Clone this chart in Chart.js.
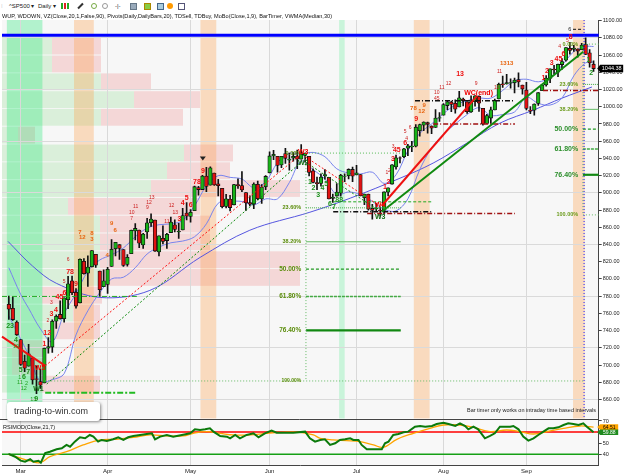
<!DOCTYPE html>
<html><head><meta charset="utf-8">
<script src="https://cdn.jsdelivr.net/npm/chart.js@4.4.1/dist/chart.umd.min.js"></script>
<style>
html,body{margin:0;padding:0;background:#fff}
body{width:625px;height:476px;position:relative;overflow:hidden;font-family:"Liberation Sans",Arial,sans-serif;color:#111}
canvas{position:absolute;left:0}
#main{top:0}
#rsi{top:419px}
.tb{position:absolute;top:2px;height:8px;font-size:6px;line-height:8px;white-space:nowrap;color:#222}
.ic{position:absolute;top:3px;width:6px;height:6px}
#ind{position:absolute;left:2px;top:13px;font-size:5.6px;line-height:7px;white-space:nowrap;z-index:3}
#wm{position:absolute;left:7px;top:402px;width:93px;height:19px;background:#fff;border-radius:3px;box-shadow:1px 1px 3px rgba(0,0,0,.45);font-size:9px;line-height:19px;color:#333;padding-left:7px;box-sizing:border-box;z-index:4}
#bt{position:absolute;right:29px;top:407px;font-size:5.5px;line-height:7px;color:#222;z-index:3;white-space:nowrap}
#rt{position:absolute;left:3px;top:424px;font-size:5.5px;line-height:7px;color:#111;z-index:3;white-space:nowrap}
</style></head>
<body>
<div class="tb" style="left:1px;color:#aaa">⁞</div>
<div class="tb" style="left:9px">^SP500 ▾</div>
<div class="tb" style="left:38px">Daily ▾</div>
<div class="ic" style="left:61px;width:2px;background:#2a2"></div>
<div class="ic" style="left:64px;width:2px;background:#d22"></div>
<div class="ic" style="left:67px;width:2px;background:#2a2"></div>
<div class="ic" style="left:77px;width:7px;height:2px;top:5px;background:#333;transform:rotate(-45deg)"></div>
<div class="ic" style="left:91px;border-radius:50%;border:1px solid #7a4;width:4px;height:4px"></div>
<div class="ic" style="left:102px;border-radius:50%;border:1px solid #999;width:4px;height:4px"></div>
<div class="tb" style="left:115px;color:#333">-|-</div>
<div class="ic" style="left:130px;background:#9ab;border:1px solid #678;width:5px;height:5px"></div>
<div class="ic" style="left:144px;background:#8c4;border:1px solid #a80;width:5px;height:5px"></div>
<div class="ic" style="left:157px;background:#acd;border:1px solid #468;width:5px;height:5px"></div>
<div class="ic" style="left:167px;background:#f90;border-radius:50%"></div>
<div class="ic" style="left:178px;background:#fff;border:1px solid #557;width:5px;height:5px"></div>
<div id="ind">WUP, WDOWN, VZ(Close,20,1,False,90), Pivots(Daily,DailyBars,20), TDSell, TDBuy, MoBo(Close,1,9), BarTimer, VWMA(Median,30)</div>
<canvas id="main" width="625" height="419"></canvas>
<canvas id="rsi" width="625" height="57"></canvas>
<div id="wm">trading-to-win.com</div>
<div id="bt">Bar timer only works on intraday time based intervals</div>
<div id="rt">RSIMOD(Close,21,7)</div>
<script>
// ================= DATA =================
const opens=[770.6,765.8,749.9,729.6,704.4,698.6,708.3,684.0,680.8,679.3,
719.6,720.9,751.0,758.8,753.9,776.0,797.9,784.6,772.3,820.6,
806.8,814.1,828.7,809.1,790.9,793.6,814.5,835.1,839.8,834.1,
816.8,829.3,855.7,856.9,839.4,854.5,865.2,868.3,831.3,847.3,
844.6,853.9,862.8,854.5,856.9,876.6,872.7,879.2,906.1,903.8,
919.6,909.0,923.0,910.5,905.4,884.2,892.8,886.1,909.7,908.6,
900.4,888.7,887.0,910.0,893.0,907.0,923.3,942.9,942.5,932.5,
945.7,938.1,940.4,942.7,939.0,943.4,942.5,925.6,911.9,910.9,
920.0,918.1,893.5,896.3,899.5,918.8,919.9,927.2,920.8,921.2,
894.3,898.6,881.9,881.3,880.0,879.6,900.8,910.2,930.2,940.6,
942.1,952.0,953.4,954.1,972.2,978.6,981.5,977.7,976.0,986.8,
990.2,1001.4,1005.4,1004.1,999.8,1008.9,1005.8,994.0,1005.9,1012.2,
998.2,980.6,986.9,996.4,1009.1,1026.6,1026.6,1027.4,1027.8,1031.6,
1025.2,1019.5,996.1,996.1,1003.8,1018.7,1025.4,1033.0,1043.9,1040.2,
1049.0,1054.0,1067.9,1066.6,1067.1,1066.4,1072.7,1062.6,1049.5];
const highs=[780.1,779.4,751.3,729.6,711.7,724.1,708.3,699.1,695.3,719.6,
731.9,752.6,758.3,774.5,778.1,803.0,803.2,788.9,823.4,823.7,
826.8,833.0,828.7,809.1,810.5,813.6,845.6,842.5,839.8,834.1,
828.4,856.9,864.3,856.9,852.9,870.4,875.6,868.3,850.1,861.8,
852.9,871.8,868.8,864.5,882.1,888.7,880.5,907.9,907.7,920.3,
929.6,930.2,923.0,915.6,905.4,898.4,897.0,910.0,916.4,924.6,
900.4,896.7,911.8,913.8,909.5,920.0,947.8,949.4,942.5,942.5,
951.7,946.3,946.9,949.8,956.2,946.3,942.5,928.0,918.4,922.0,
927.1,918.1,898.7,910.9,921.4,922.0,928.0,930.0,931.9,921.2,
898.7,898.6,886.8,887.9,883.6,901.1,905.8,933.0,944.0,941.9,
951.6,956.5,959.8,979.4,979.8,982.5,982.2,977.8,996.7,993.2,
1003.6,1007.1,1006.6,1008.0,1018.0,1010.1,1005.8,1012.8,1013.1,1012.6,
998.2,991.2,999.6,1008.9,1027.6,1035.8,1037.8,1032.5,1033.3,1039.5,
1025.2,1028.5,1000.3,1003.4,1016.5,1026.1,1036.3,1044.1,1048.2,1049.7,
1056.0,1068.8,1074.8,1071.5,1067.3,1073.8,1080.2,1066.3,1053.5];
const lows=[752.9,751.8,734.5,699.7,692.3,698.6,677.9,666.8,672.9,679.3,
713.9,714.8,742.5,753.4,749.9,765.6,781.8,766.2,772.3,805.5,
791.4,814.1,813.4,779.8,790.9,783.3,814.5,826.7,822.8,814.5,
814.8,829.3,845.4,836.3,835.6,847.0,860.9,832.0,826.8,840.6,
835.6,853.9,854.7,847.1,856.9,868.5,866.1,879.2,897.3,903.8,
901.4,909.0,908.7,896.5,882.5,882.5,878.9,886.1,905.2,901.4,
879.6,884.8,881.5,891.9,887.6,903.6,923.3,938.5,923.9,929.3,
934.1,926.4,936.7,928.0,939.0,935.7,919.7,911.6,903.8,907.9,
915.8,893.0,888.9,896.3,896.3,913.0,916.2,912.9,920.8,896.4,
886.4,879.9,869.3,878.5,872.8,875.3,896.5,910.2,927.4,934.9,
941.0,943.2,947.8,953.3,966.0,972.3,969.4,968.7,976.0,982.9,
990.2,996.7,994.3,992.5,999.8,1001.0,992.4,993.4,1000.8,994.6,
978.5,980.6,980.6,996.4,1009.1,1022.5,1026.2,1021.6,1016.2,1023.1,
1014.6,996.3,992.0,990.3,1001.7,1018.7,1024.0,1028.0,1038.4,1035.0,
1043.4,1052.9,1061.0,1064.3,1057.5,1066.4,1060.4,1045.9,1041.2];
const closes=[764.9,752.8,735.1,700.8,696.3,712.9,682.6,683.4,676.5,719.6,
721.4,750.7,756.6,753.9,778.1,794.4,784.0,768.5,822.9,806.1,
813.9,832.9,815.9,787.5,797.9,811.1,834.4,842.5,835.5,815.6,
825.2,856.6,858.7,841.5,852.1,865.3,869.6,832.4,850.1,843.6,
851.9,866.2,857.5,855.2,873.6,872.8,877.5,907.2,903.8,919.5,
907.4,929.2,909.2,908.4,883.9,893.1,882.9,909.7,908.1,903.5,
888.3,887.0,910.3,893.1,906.8,919.1,942.9,944.7,931.8,942.5,
940.1,939.1,942.4,939.2,944.9,946.2,923.7,912.0,910.7,918.4,
921.2,893.0,895.1,900.9,920.3,918.9,927.2,919.3,923.3,896.4,
898.7,881.0,879.6,882.7,879.1,901.1,905.8,932.7,940.7,940.4,
951.1,954.6,954.1,976.3,979.3,982.2,979.6,975.2,986.8,987.5,
1002.6,1005.7,1002.7,997.1,1010.5,1007.1,994.4,1005.8,1012.7,1004.1,
979.7,989.7,996.5,1007.4,1026.1,1025.6,1028.0,1028.1,1031.0,1028.9,
1020.6,998.0,994.8,1003.2,1016.4,1025.4,1033.4,1044.1,1042.7,1049.3,
1052.6,1068.8,1065.5,1068.3,1064.7,1071.7,1060.9,1050.8,1044.4];
const monthIdx=[3,25,46,66,88,110,131];
const monthLbl=['Mar','Apr','May','Jun','Jul','Aug','Sep'];
const lastPrice=1044.38;

// MoBo bands
const mbIdx=[0,3,5,8,11,14,17,20,23,26,29,32,35,38,41,44,47,50,53,56,59,62,65,68,71,74,77,80,83,86,89,92,95,98,101,104,107,110,113,116,119,122,125,128,131,134,137,140,143,146,148];
const mbUp=[813,782,766,742,727,760,783,809,822,828,836,849,859,863,864,868,885,908,920,918,916,906,913,935,946,945,947,942,928,923,922,924,911,921,949,969,980,992,1002,1007,1010,1010,1019,1030,1032,1029,1034,1048,1064,1070,1070];
const mbLo=[757,730,712,681,683,690,735,763,784,800,802,813,829,837,842,844,849,864,888,890,890,886,893,893,912,937,927,916,898,901,898,890,881,879,893,927,952,968,980,991,999,990,991,994,1011,1004,1002,1010,1036,1051,1052];
// VWMA(Median,30)
const vwIdx=[-0.2,6,12,23.1,35.7,48.4,61.0,76.2,86.4,99.0,107.4,116,124.3,132.7,140,147.6];
const vwVal=[843.6,815,795,778.5,786.7,825,856.6,877.5,893.8,917,934.6,958,981,996,1010,1023];

// Volume zones (20 price buckets, up / down volume)
const vzTop=[1080.2,1059.5,1038.8,1018.1,997.5,976.8,956.1,935.5,914.8,894.1,873.5,852.8,832.1,811.5,790.8,770.1,749.5,728.8,708.1,687.5];
const vzStep=20.67;
const vzUp=[50,50,99,132,99,16,182,165,149,66,98,98,98,98,40,71,48,10,10,38];
const vzDn=[49,49,50,66,82,17,49,63,149,132,110,110,200,200,60,27,50,33,33,60];

// time zones (bar index ranges)
const tzFrom=[-0.5,16.5,48.5,83.6,102.5,142.8];
const tzTo=[8.5,21.5,52.5,85.0,106.5,145.8];
const tzKind=['mint','orange','orange','mint2','orange','orange'];

// pivots / horizontal lines
const pivotHigh=1083;
const hlPrice=[1007,980,1019,889.6,878,876,779.7,667.9,1090];
const hlFrom=[102.8,107.4,135.2,82.1,82.1,90.7,-1.73,9.2,142.8];
const hlTo=[128.1,128.1,149.3,107.4,107.4,128.1,32.4,32.4,145.4];
const hlKind=['blackDD','redDD','redDD','greenDash','blackDD','redDD','greenDD','greenDDthick','blackDash'];

// wave trend lines [barIndex, price]
const tlFrom=[[-1.73,733],[9.2,699],[9.6,678],[75,942],[75,936],[94.4,885],[94.4,878]];
const tlTo=[[9.15,699.4],[74.5,947],[74.1,936],[93.5,886],[93.5,880],[118.4,1012],[145.4,1064]];
const tlKind=['redSolid','redDash','greenTrend','redDash','greenTrend','redSolid','greenSolid'];

// Fibonacci retracements
const fibLbl=['0.00%','23.60%','38.20%','50.00%','61.80%','76.40%','100.00%'];
const fib1Lvl=[946.2,882.6,843.2,811.4,779.5,740.2,681.5];
const fib1Span=[75.2,99.2];
const fib1FullSpan=[9.2,145.9];
const fib1LblIdx=74.0;
const fib2Lvl=[1072.8,1026,997,974,951,921,874.4];
const fib2Span=[145.3,149.3];
const fib2LblIdx=144.1;
const barTimerIdx=145.6;

// TD / wave labels [barIndex, price, text]
const redBig=[[9.0,724,'1'],[9.7,737,'12'],[10.8,759,'3'],[11.9,764.4,'4'],[12.8,779,'45'],[14.1,783.7,'6'],[15.5,808,'78'],[17.0,794.6,'9'],[43.2,869.4,'3'],[44.0,887.7,'4'],[45.0,893.5,'5'],[46.0,885.7,'6'],[47.6,912.8,'78'],[49.1,925.2,'9'],[95.2,907,'1'],[96.1,912.8,'2'],[97.2,938.8,'3'],[98.2,949.7,'45'],[100.3,957.4,'6'],[103.1,985.3,'9'],[114.2,1037.7,'13'],[135.3,1033,'1'],[136.2,1041.9,'2'],[137.4,1050.5,'3'],[139.1,1055.1,'45'],[140.4,1061.3,'6'],[142.2,1081.4,'8']];
const redSmall=[[9.9,752,'2'],[10.8,772,'3'],[14.0,797,'5'],[15.0,822.6,'6'],[31.1,870,'7'],[31.1,876.7,'10'],[32.1,883.7,'11'],[35.1,883,'9'],[35.5,888.8,'12'],[36.2,894.7,'13'],[40.0,866.3,'11'],[41.2,885.7,'12'],[42.1,876.7,'13'],[95.7,923,'1'],[96.3,925.6,'2'],[97.3,953.5,'3'],[100.7,963.3,'4'],[100.3,971,'5'],[101.6,976,'6'],[108.3,1016.7,'10'],[108.3,1009.8,'45'],[109.6,1022.6,'11'],[111.3,1027.2,'12'],[118.3,1027.2,'9'],[124.2,1040.7,'11'],[123.5,1022.6,'10'],[139.4,1069.8,'4'],[141.4,1076.4,'5']];
const orangeLbl=[[18.0,854,'7'],[18.6,848,'12'],[21.0,852.8,'8'],[21.0,846,'3'],[24.9,827.6,'4'],[26.0,865,'9'],[26.9,856.6,'6'],[102.4,998.1,'78'],[104.5,994.2,'12'],[105.1,1001.2,'9'],[126.0,1050.5,'1313']];
const greenBig=[[0.3,745,'23'],[1.8,728.7,'4'],[3.0,693.8,'5'],[4.9,691.9,'7'],[3.8,686,'6'],[6.9,661,'9'],[76.2,912.8,'1'],[77.1,905,'2'],[78.3,897.3,'3'],[79.4,905.5,'4'],[80.3,910,'5'],[81.3,886.9,'6'],[82.3,883.4,'7'],[83.6,891.6,'88'],[146.7,1054.3,'1'],[147.4,1039.5,'2']];
const greenSmall=[[1.8,721.7,'10'],[2.8,686,'1'],[2.8,680.2,'11'],[4.5,678.4,'2'],[3.8,672.6,'12'],[6.2,659.8,'13']];
const blackSmall=[[142.0,1090,'6']];
const waveRed=[[7.9,697,'W5'],[74.5,947.7,'W3'],[94.0,885.7,'W4'],[118.9,1015.6,'WC(end)']];
const waveGreen=[[7.5,672.6,'W1'],[74.5,934.2,'W2'],[94.0,871.4,'W3']];
const topMarks=[[49.1,940]];

// RSIMOD
const rsiIdx=[-0.1,1.6,3.0,4.1,5.4,6.2,7.5,8.1,9.2,10.4,12.1,13.4,14.6,15.5,16.7,18.0,19.3,20.5,21.4,22.6,23.5,24.8,26.4,27.7,29.0,30.2,31.5,33.2,34.9,36.2,37.0,38.3,40.0,41.6,43.8,45.9,47.1,48.4,49.7,50.9,51.8,53.5,55.2,56.0,57.3,58.5,60.2,61.9,63.2,64.8,66.5,67.8,69.5,72.0,75.0,76.2,77.5,78.8,80.0,81.3,82.6,83.8,85.1,86.4,87.2,88.5,89.3,90.6,91.9,93.1,94.4,95.2,96.1,97.3,98.6,99.9,101.1,102.8,104.1,105.4,107.1,108.3,110.0,111.3,113.0,114.2,115.5,116.3,117.6,118.8,120.5,121.8,123.0,124.3,125.6,126.9,127.7,129.0,130.2,131.5,132.8,134.0,135.3,136.6,137.8,139.1,140.4,141.6,142.9,144.2,145.4,146.3,148];
const rsiVal=[40.3,37.8,34.3,33.3,35.5,33.3,34.2,32.4,41.0,42.3,44.5,45.4,48.4,46.8,51.4,55.3,54.4,57.4,55.9,51.4,52.9,52.0,53.5,55.3,52.9,55.3,56.5,57.4,58.3,58.9,53.5,55.9,57.4,55.9,57.4,58.9,62.5,61.9,62.5,63.4,60.4,56.5,55.9,54.4,57.4,54.4,57.4,58.9,55.3,58.9,61.3,59.5,59.5,59.5,60.4,54.4,51.4,52.9,53.5,48.4,49.9,52.9,53.5,54.4,52.9,52.9,48.4,44.5,44.5,44.5,44.5,49.9,51.4,57.4,58.3,59.8,60.4,64.9,65.5,64.9,65.5,67.3,68.5,67.3,65.5,67.9,65.5,62.5,64.9,62.5,54.4,56.5,58.9,64.9,64.9,64.9,65.5,62.5,55.9,52.3,54.4,57.4,60.4,63.4,63.4,64.3,66.4,67.9,67.3,66.4,67.9,64.9,59.88];
const sigIdx=[-0.1,2.8,5.4,7.9,10.4,14.6,18.8,23.1,27.3,31.5,35.7,40.0,44.2,46.7,50.1,53.5,56.8,61.1,65.3,69.5,73.7,77.1,78.8,82.1,85.5,88.9,92.3,94.8,98.2,102.4,106.6,110.0,114.2,117.6,121.8,126.0,129.4,132.8,136.2,140.4,144.6,148];
const sigVal=[40,36.7,34,32.4,37.8,42.3,48.4,52.9,53.5,55.3,57.4,56.5,56.5,58.9,60.4,58.9,57.4,57.4,58.9,59.8,59.8,57.4,54.4,52.9,52.3,51.4,48.4,46.3,53.5,58.9,63.4,66.4,66.4,64.3,60.4,61.9,60.4,58.3,60.4,63.4,65.5,64.51];
const rsiLevels=[60,40];
const rsiTicks=[40,50,60,70];
const rsiLast=59.88, sigLast=64.51;

// ================= STYLE =================
const FONT='"Liberation Sans", Arial, sans-serif';
const xMin=-1.73, xMax=149.3;
const TZC={mint:'rgba(40,235,120,0.33)',mint2:'rgba(40,235,120,0.22)',orange:'rgba(255,160,70,0.32)'};
const LS={
 blackDD:{c:'#111',w:1.5,d:[5,2,1,2]},
 blackDash:{c:'#111',w:1,d:[3,2]},
 redDD:{c:'#a01010',w:1.5,d:[5,2,1,2]},
 greenDash:{c:'#22aa22',w:1,d:[3,2]},
 greenDD:{c:'#22aa22',w:1,d:[5,2,1,2]},
 greenDDthick:{c:'#22bb22',w:2,d:[6,2,2,2]},
 redSolid:{c:'#ee1111',w:2,d:[]},
 redDash:{c:'#ff1010',w:1,d:[2,2]},
 greenTrend:{c:'#0a8a0a',w:1,d:[2,2]},
 greenSolid:{c:'#108a10',w:2,d:[]}
};
const fibStyle=[{c:'#55bb55',w:1,d:[1,2]},{c:'#44aa44',w:1,d:[1,1]},{c:'#66bb66',w:1,d:[]},{c:'#229922',w:1.2,d:[3,2]},{c:'#44aa44',w:1.5,d:[3,1]},{c:'#118811',w:2.2,d:[]},{c:'#66bb66',w:1,d:[1,2]}];
const fib1Font=[5.5,5.5,5.5,6.5,6.5,6.5,5];
const fib2Font=[5.5,5.5,5.5,7,7,7,5.5];

function px(c,v){return c.scales.x.getPixelForValue(v);}
function py(c,v){return c.scales.y.getPixelForValue(v);}
function ln(ctx,x1,y1,x2,y2,s){ctx.beginPath();ctx.strokeStyle=s.c;ctx.lineWidth=s.w;ctx.setLineDash(s.d||[]);ctx.moveTo(x1,y1);ctx.lineTo(x2,y2);ctx.stroke();ctx.setLineDash([]);}
function tx(ctx,s,x,y,font,color,align){ctx.font=font;ctx.fillStyle=color;ctx.textAlign=align||'center';ctx.textBaseline='middle';ctx.fillText(s,x,y);}
function tag(ctx,xL,y,w,h,s,bg,fg,font){ctx.fillStyle=bg;ctx.beginPath();ctx.moveTo(xL-3,y);ctx.lineTo(xL,y-h/2);ctx.lineTo(xL+w,y-h/2);ctx.lineTo(xL+w,y+h/2);ctx.lineTo(xL,y+h/2);ctx.closePath();ctx.fill();tx(ctx,s,xL+w/2,y+0.4,font,fg,'center');}

const mainDeco={id:'mainDeco',
 beforeDraw(c){
  const ctx=c.ctx,a=c.chartArea;ctx.save();
  ctx.fillStyle='#f7f7f7';ctx.fillRect(a.left,a.top,a.right-a.left,a.bottom-a.top);
  for(let k=0;k<vzTop.length;k++){
   const y1=py(c,vzTop[k]),y2=py(c,vzTop[k]-vzStep);
   ctx.fillStyle='rgba(120,215,120,0.22)';ctx.fillRect(a.left,y1,vzUp[k],y2-y1-1);
   ctx.fillStyle='rgba(235,105,105,0.22)';ctx.fillRect(a.left+vzUp[k],y1,vzDn[k],y2-y1-1);
  }
  for(let i=0;i<tzFrom.length;i++){
   const x1=px(c,tzFrom[i]),x2=px(c,tzTo[i]);
   ctx.fillStyle=TZC[tzKind[i]];ctx.fillRect(x1,a.top,x2-x1,a.bottom-a.top);
  }
  ctx.restore();
 },
 beforeDatasetsDraw(c){
  const ctx=c.ctx,a=c.chartArea;ctx.save();
  ln(ctx,a.left,py(c,pivotHigh),a.right,py(c,pivotHigh),{c:'#0000ff',w:3,d:[]});
  ctx.restore();
 },
 afterDatasetsDraw(c){
  const ctx=c.ctx,a=c.chartArea;ctx.save();
  for(let i=0;i<hlPrice.length;i++){const y=py(c,hlPrice[i]);ln(ctx,px(c,hlFrom[i]),y,px(c,hlTo[i]),y,LS[hlKind[i]]);}
  for(let i=0;i<tlFrom.length;i++){ln(ctx,px(c,tlFrom[i][0]),py(c,tlFrom[i][1]),px(c,tlTo[i][0]),py(c,tlTo[i][1]),LS[tlKind[i]]);}
  for(let j=0;j<fib1Lvl.length;j++){
   const y=py(c,fib1Lvl[j]);const sp=j===6?fib1FullSpan:fib1Span;
   ln(ctx,px(c,sp[0]),y,px(c,sp[1]),y,fibStyle[j]);
   tx(ctx,fibLbl[j],px(c,fib1LblIdx),y,'bold '+fib1Font[j]+'px '+FONT,'#5a8c0a','right');
  }
  ln(ctx,px(c,fib1Span[0]),py(c,fib1Lvl[0]),px(c,fib1Span[0]),py(c,fib1Lvl[6]),{c:'#66bb66',w:1,d:[1,2]});
  for(let j=0;j<fib2Lvl.length;j++){
   const y=py(c,fib2Lvl[j]);
   ln(ctx,px(c,fib2Span[0]),y,px(c,fib2Span[1]),y,fibStyle[j]);
   tx(ctx,fibLbl[j],px(c,fib2LblIdx),y,'bold '+fib2Font[j]+'px '+FONT,fib2Font[j]>6?'#2d8f2d':'#6a9a1a','right');
  }
  ln(ctx,px(c,fib2Span[0]),py(c,fib2Lvl[0]),px(c,fib2Span[0]),py(c,fib2Lvl[6]),{c:'#66bb66',w:1,d:[1,2]});
  ln(ctx,px(c,barTimerIdx),a.top,px(c,barTimerIdx),a.bottom,{c:'#2020ff',w:1,d:[1,2]});
  const put=(arr,font,col)=>arr.forEach(p=>tx(ctx,p[2],px(c,p[0]),py(c,p[1]),font,col,'center'));
  put(orangeLbl,'bold 6px '+FONT,'#e8650f');
  put(redSmall,'5px '+FONT,'#cc2020');
  put(redBig,'bold 7px '+FONT,'#ee1010');
  put(greenSmall,'5.5px '+FONT,'#22a022');
  put(greenBig,'bold 7px '+FONT,'#1a8f1a');
  put(blackSmall,'5.5px '+FONT,'#222');
  put(waveRed,'bold 7px '+FONT,'#ee0000');
  put(waveGreen,'bold 7px '+FONT,'#146a14');
  topMarks.forEach(p=>{const x=px(c,p[0]),y=py(c,p[1]);ctx.fillStyle='#222';ctx.beginPath();ctx.moveTo(x-3,y-2);ctx.lineTo(x+3,y-2);ctx.lineTo(x,y+2);ctx.closePath();ctx.fill();});
  ctx.restore();
 },
 afterDraw(c){
  const ctx=c.ctx,a=c.chartArea;ctx.save();
  tag(ctx,a.right+1.5,py(c,lastPrice),23,7.5,lastPrice.toFixed(2),'#000','#fff','5.5px '+FONT);
  ctx.restore();
 }
};

const body=closes.map((cl,i)=>({x:i,y:[opens[i],cl]}));
const wick=closes.map((cl,i)=>({x:i,y:[lows[i],highs[i]]}));
new Chart(document.getElementById('main'),{
 type:'bar',
 data:{datasets:[
  {type:'bar',data:body,backgroundColor:closes.map((cl,i)=>cl>=opens[i]?'#18b418':'#e01212'),borderColor:'#111',borderWidth:0.8,borderSkipped:false,barThickness:3.6,grouped:false,order:1},
  {type:'bar',data:wick,backgroundColor:'#111',borderWidth:0,barThickness:1,grouped:false,order:2},
  {type:'line',data:mbIdx.map((x,i)=>({x,y:mbUp[i]})),borderColor:'#7884ee',borderWidth:1,pointRadius:0,tension:0.35,order:3},
  {type:'line',data:mbIdx.map((x,i)=>({x,y:mbLo[i]})),borderColor:'#7884ee',borderWidth:1,pointRadius:0,tension:0.35,order:3},
  {type:'line',data:vwIdx.map((x,i)=>({x,y:vwVal[i]})),borderColor:'#5656e0',borderWidth:1,pointRadius:0,tension:0.35,order:3}
 ]},
 options:{responsive:false,animation:false,events:[],
  layout:{padding:{left:2,top:20,right:0,bottom:0.5}},
  plugins:{legend:{display:false},tooltip:{enabled:false}},
  scales:{
   x:{type:'linear',min:xMin,max:xMax,offset:false,
      afterBuildTicks:s=>{s.ticks=monthIdx.map(v=>({value:v}));},
      afterFit:s=>{s.height=0;s.paddingLeft=0;s.paddingRight=0;},
      ticks:{display:false},grid:{color:'#d9d9d9',drawTicks:false,offset:false},border:{display:false}},
   y:{position:'right',min:637.9,max:1100.8,
      afterBuildTicks:s=>{s.ticks=s.ticks.filter(t=>t.value>=650);},
      afterFit:s=>{s.width=26.3;s.paddingTop=0;s.paddingBottom=0;},
      ticks:{stepSize:20,includeBounds:false,callback:v=>v.toFixed(2),font:{family:FONT,size:5.5},color:'#222',padding:1},
      grid:{color:ctx=>(ctx.tick&&Math.round(ctx.tick.value)%60===0)?'#dadada':'rgba(0,0,0,0)',tickColor:'#444',tickLength:3},
      border:{display:true,color:'#444',width:1}}
  }},
 plugins:[mainDeco]
});

const rsiDeco={id:'rsiDeco',
 beforeDraw(c){const ctx=c.ctx,a=c.chartArea;ctx.save();ctx.fillStyle='#f8f8f8';ctx.fillRect(a.left,a.top,a.right-a.left,a.bottom-a.top);ctx.restore();},
 beforeDatasetsDraw(c){const ctx=c.ctx,a=c.chartArea;ctx.save();
  const cols=['#ff0000','#16a016'];
  rsiLevels.forEach((v,i)=>{const y=c.scales.y.getPixelForValue(v);ln(ctx,a.left,y,a.right,y,{c:cols[i],w:1.5,d:[]});});
  ctx.restore();},
 afterDraw(c){const ctx=c.ctx,a=c.chartArea;ctx.save();
  ln(ctx,0,0.5,a.right,0.5,{c:'#444',w:1,d:[]});
  tag(ctx,a.right+1.5,c.scales.y.getPixelForValue(sigLast),18,5.6,sigLast.toFixed(2),'#ffa500','#000','5px '+FONT);
  tag(ctx,a.right+1.5,c.scales.y.getPixelForValue(rsiLast),18,5.6,rsiLast.toFixed(2),'#1e8a1e','#fff','5px '+FONT);
  ctx.restore();}
};
new Chart(document.getElementById('rsi'),{
 type:'line',
 data:{datasets:[
  {data:rsiIdx.map((x,i)=>({x,y:rsiVal[i]})),borderColor:'#0b7a0b',borderWidth:2,pointRadius:0,tension:0,order:1},
  {data:sigIdx.map((x,i)=>({x,y:sigVal[i]})),borderColor:'#ffa500',borderWidth:1.3,pointRadius:0,tension:0.4,order:2}
 ]},
 options:{responsive:false,animation:false,events:[],
  layout:{padding:{left:2,top:0,right:0,bottom:0}},
  plugins:{legend:{display:false},tooltip:{enabled:false}},
  scales:{
   x:{type:'linear',min:xMin,max:xMax,
      afterBuildTicks:s=>{s.ticks=monthIdx.map(v=>({value:v}));},
      afterFit:s=>{s.height=10.3;s.paddingLeft=0;s.paddingRight=0;},
      ticks:{callback:(v,i)=>monthLbl[i],autoSkip:false,maxRotation:0,font:{family:FONT,size:6},color:'#222',padding:2},
      grid:{color:'#d9d9d9',drawTicks:false},border:{display:true,color:'#444'}},
   y:{position:'right',min:29.7,max:71.8,
      afterBuildTicks:s=>{s.ticks=rsiTicks.map(v=>({value:v}));},
      afterFit:s=>{s.width=26.3;s.paddingTop=0;s.paddingBottom=0;},
      ticks:{font:{family:FONT,size:5.5},color:'#222',padding:1},
      grid:{drawOnChartArea:false,tickColor:'#444',tickLength:3},border:{display:true,color:'#444'}}
  }},
 plugins:[rsiDeco]
});
</script>
</body></html>
